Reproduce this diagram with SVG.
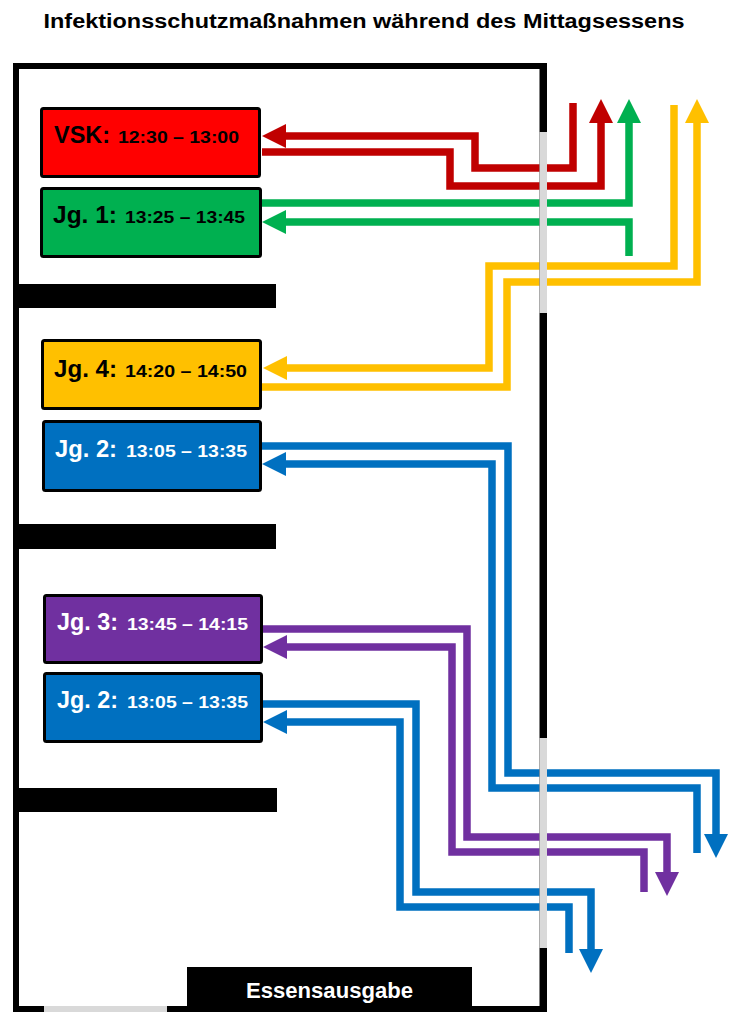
<svg xmlns="http://www.w3.org/2000/svg" width="729" height="1012" viewBox="0 0 729 1012">
<style>
.t{font-family:"Liberation Sans",Arial,sans-serif;font-weight:bold}
.big{font-size:24px}
.sm{font-size:17px}
.box{stroke:#000;stroke-width:3}
.c{fill:none;stroke-width:7.5;stroke-linejoin:miter;stroke-linecap:butt}
.wall{fill:#000}
.door{fill:#d9d9d9}
</style>
<defs>
<marker id="aR" markerUnits="userSpaceOnUse" markerWidth="24" markerHeight="24" refX="0" refY="12" orient="auto"><path d="M0,0 L24,12 L0,24 z" fill="#c00000"/></marker>
<marker id="aG" markerUnits="userSpaceOnUse" markerWidth="24" markerHeight="24" refX="0" refY="12" orient="auto"><path d="M0,0 L24,12 L0,24 z" fill="#00b050"/></marker>
<marker id="aY" markerUnits="userSpaceOnUse" markerWidth="24" markerHeight="24" refX="0" refY="12" orient="auto"><path d="M0,0 L24,12 L0,24 z" fill="#ffc000"/></marker>
<marker id="aB" markerUnits="userSpaceOnUse" markerWidth="24" markerHeight="24" refX="0" refY="12" orient="auto"><path d="M0,0 L24,12 L0,24 z" fill="#0070c0"/></marker>
<marker id="aP" markerUnits="userSpaceOnUse" markerWidth="24" markerHeight="24" refX="0" refY="12" orient="auto"><path d="M0,0 L24,12 L0,24 z" fill="#7030a0"/></marker>
</defs>
<rect width="729" height="1012" fill="#fff"/>
<text class="t" x="364" y="28" font-size="20" text-anchor="middle" textLength="641" lengthAdjust="spacingAndGlyphs">Infektionsschutzmaßnahmen während des Mittagsessens</text>

<g id="connectors">
<path class="c" stroke="#c00000" d="M573 103 V168 H475 V136 H286" marker-end="url(#aR)"/>
<path class="c" stroke="#c00000" d="M262 152 H450 V186 H601 V123" marker-end="url(#aR)"/>
<path class="c" stroke="#00b050" d="M262 203 H629 V123" marker-end="url(#aG)"/>
<path class="c" stroke="#00b050" d="M629 256 V222 H286" marker-end="url(#aG)"/>
<path class="c" stroke="#ffc000" d="M674 105 V266 H489 V368 H287" marker-end="url(#aY)"/>
<path class="c" stroke="#ffc000" d="M262 387 H507 V282 H697 V123" marker-end="url(#aY)"/>
<path class="c" stroke="#0070c0" d="M262 446 H508 V773 H716 V834" marker-end="url(#aB)"/>
<path class="c" stroke="#0070c0" d="M697 853 V788 H492 V464 H286" marker-end="url(#aB)"/>
<path class="c" stroke="#7030a0" d="M263 629 H467 V837 H667 V872" marker-end="url(#aP)"/>
<path class="c" stroke="#7030a0" d="M644 892 V852 H452 V647 H287" marker-end="url(#aP)"/>
<path class="c" stroke="#0070c0" d="M263 704 H416 V892 H591 V949" marker-end="url(#aB)"/>
<path class="c" stroke="#0070c0" d="M569 953 V907 H400 V722 H287" marker-end="url(#aB)"/>
</g>

<g id="walls">
<rect class="wall" x="13" y="63" width="534" height="6"/>
<rect class="wall" x="13" y="63" width="6" height="949"/>
<rect class="wall" x="539.5" y="63" width="7.5" height="949"/>
<rect class="wall" x="13" y="1006" width="534" height="6"/>
<rect class="door" x="539.5" y="132" width="7.5" height="181"/>
<rect class="door" x="539.5" y="738" width="7.5" height="210"/>
<rect class="door" x="44" y="1006" width="123" height="6"/>
<rect class="wall" x="13" y="284" width="263" height="24"/>
<rect class="wall" x="13" y="524" width="263" height="25"/>
<rect class="wall" x="13" y="788" width="264" height="24"/>
</g>

<g id="essensausgabe">
<rect class="wall" x="187" y="967" width="285" height="45"/>
<text class="t" x="329.5" y="998" font-size="22" fill="#fff" text-anchor="middle" textLength="167" lengthAdjust="spacingAndGlyphs">Essensausgabe</text>
</g>

<g id="vsk">
<rect class="box" x="41.5" y="108.5" width="218" height="68" rx="2" fill="#ff0000"/>
<text class="t" y="143" fill="#000"><tspan class="big" x="54" textLength="56" lengthAdjust="spacingAndGlyphs">VSK:</tspan><tspan class="sm" x="118" textLength="121" lengthAdjust="spacingAndGlyphs">12:30 – 13:00</tspan></text>
</g>
<g id="jg1">
<rect class="box" x="41.5" y="188.5" width="219" height="68" rx="2" fill="#00b050"/>
<text class="t" y="223" fill="#000"><tspan class="big" x="53" textLength="64" lengthAdjust="spacingAndGlyphs">Jg. 1:</tspan><tspan class="sm" x="125" textLength="120" lengthAdjust="spacingAndGlyphs">13:25 – 13:45</tspan></text>
</g>
<g id="jg4">
<rect class="box" x="42.5" y="340.5" width="218" height="68" rx="2" fill="#ffc000"/>
<text class="t" y="377" fill="#000"><tspan class="big" x="54" textLength="63" lengthAdjust="spacingAndGlyphs">Jg. 4:</tspan><tspan class="sm" x="125" textLength="122" lengthAdjust="spacingAndGlyphs">14:20 – 14:50</tspan></text>
</g>
<g id="jg2a">
<rect class="box" x="43.5" y="421.5" width="217" height="69" rx="2" fill="#0070c0"/>
<text class="t" y="457" fill="#fff"><tspan class="big" x="55" textLength="62" lengthAdjust="spacingAndGlyphs">Jg. 2:</tspan><tspan class="sm" x="126" textLength="121" lengthAdjust="spacingAndGlyphs">13:05 – 13:35</tspan></text>
</g>
<g id="jg3">
<rect class="box" x="44.5" y="595.5" width="217" height="67" rx="2" fill="#7030a0"/>
<text class="t" y="630" fill="#fff"><tspan class="big" x="57" textLength="61" lengthAdjust="spacingAndGlyphs">Jg. 3:</tspan><tspan class="sm" x="127" textLength="121" lengthAdjust="spacingAndGlyphs">13:45 – 14:15</tspan></text>
</g>
<g id="jg2b">
<rect class="box" x="44.5" y="673.5" width="217" height="68" rx="2" fill="#0070c0"/>
<text class="t" y="708" fill="#fff"><tspan class="big" x="57" textLength="61" lengthAdjust="spacingAndGlyphs">Jg. 2:</tspan><tspan class="sm" x="127" textLength="121" lengthAdjust="spacingAndGlyphs">13:05 – 13:35</tspan></text>
</g>
</svg>
